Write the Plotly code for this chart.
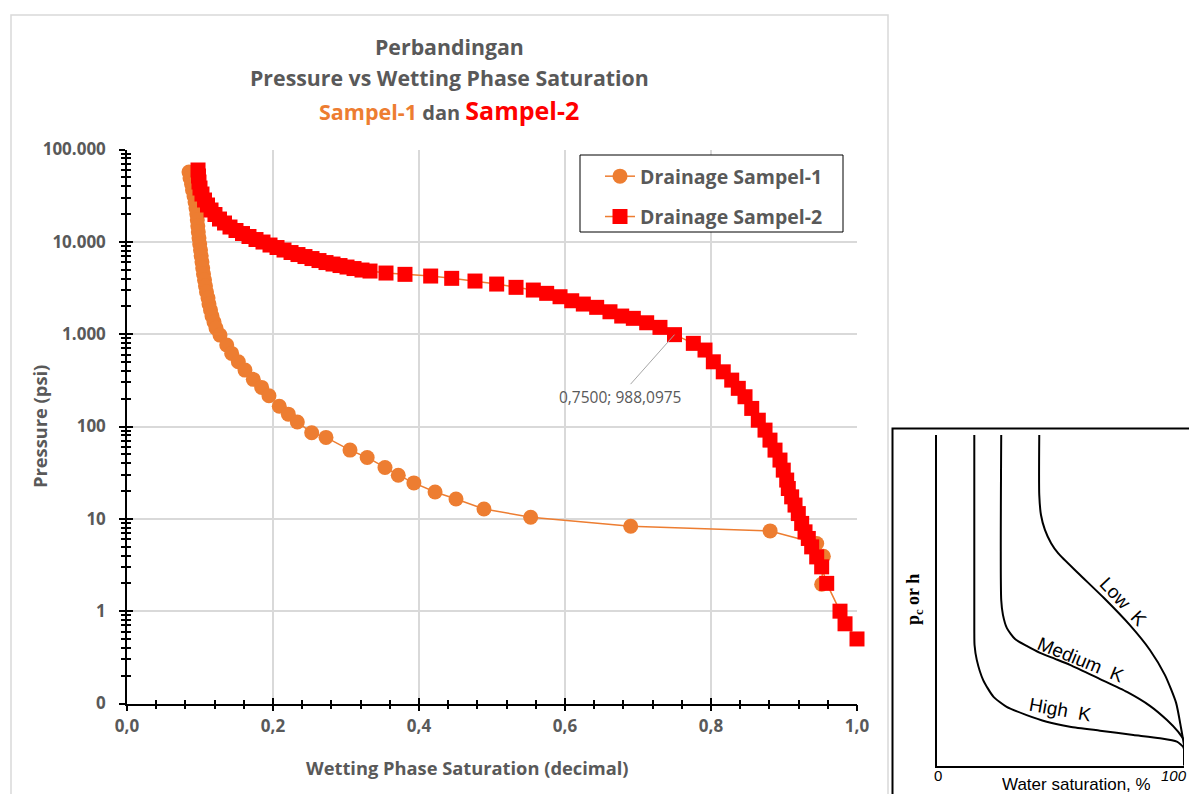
import math
import plotly.graph_objects as go

# ---------------- data ----------------
sw_sampel1 = [0.0849, 0.0863, 0.0884, 0.0897, 0.0918, 0.0932, 0.0945, 0.0956, 0.0963, 0.0970,
              0.0977, 0.0986, 0.0996, 0.1007, 0.1016, 0.1027, 0.1037, 0.1048, 0.1062, 0.1075,
              0.1089, 0.1110, 0.1123, 0.1144, 0.1164, 0.1192, 0.1219, 0.1274, 0.1366, 0.1434,
              0.1525, 0.1616, 0.1730, 0.1845, 0.1945, 0.2086, 0.2210, 0.2333, 0.2530, 0.2726,
              0.3055, 0.3290, 0.3534, 0.3716, 0.3930, 0.4220, 0.4507, 0.4890, 0.5530, 0.6900,
              0.8810, 0.9448, 0.9539, 0.9516]
p_sampel1 = [57050, 49120, 42290, 36410, 31350, 26990, 23240, 20010, 17230, 14830,
             12770, 10990, 9467, 8151, 7018, 6042, 5202, 4479, 3857, 3320,
             2859, 2461, 2119, 1824, 1571, 1352, 1164, 977, 762, 619,
             502, 408, 324, 265, 215, 166, 136, 112, 85.5, 76.2,
             55.5, 46.2, 36.0, 29.7, 24.5, 19.5, 16.4, 12.8, 10.4, 8.3,
             7.4, 5.41, 3.94, 1.96]

sw_sampel2 = [0.0973, 0.0979, 0.0986, 0.1000, 0.1027, 0.1062, 0.1103, 0.1151, 0.1205, 0.1267,
              0.1336, 0.1411, 0.1493, 0.1582, 0.1671, 0.1767, 0.1863, 0.1959, 0.2055, 0.2151,
              0.2247, 0.2342, 0.2438, 0.2534, 0.2630, 0.2726, 0.2822, 0.2918, 0.3014, 0.3110,
              0.3219, 0.3329, 0.3548, 0.3808, 0.4160, 0.4448, 0.4767, 0.5064, 0.5329, 0.5566,
              0.5749, 0.5932, 0.6092, 0.6251, 0.6434, 0.6616, 0.6777, 0.6936, 0.7119, 0.7301,
              0.7500, 0.7758, 0.7918, 0.8032, 0.8168, 0.8284, 0.8374, 0.8466, 0.8558, 0.8648,
              0.8740, 0.8808, 0.8877, 0.8945, 0.8990, 0.9037, 0.9059, 0.9105, 0.9151, 0.9196,
              0.9242, 0.9288, 0.9333, 0.9379, 0.9448, 0.9516, 0.9585, 0.9767, 0.9836, 1.0000]
p_sampel2 = [59970, 51640, 44450, 38270, 32950, 28380, 25050, 22110, 19760, 17660,
             15990, 14470, 13260, 12300, 11420, 10590, 9950, 9233, 8676, 8151,
             7658, 7285, 6930, 6593, 6271, 5966, 5747, 5536, 5333, 5137,
             4949, 4827, 4592, 4445, 4261, 4024, 3762, 3490, 3214, 3005,
             2767, 2543, 2301, 2119, 1952, 1748, 1571, 1484, 1329, 1185,
             988.0975, 795, 673, 502, 391, 318, 259, 210, 157, 117,
             91.4, 71.2, 55.5, 43.3, 33.7, 26.3, 21.3, 17.3, 14.1, 11.4,
             8.92, 7.23, 6.13, 4.97, 3.87, 3.02, 2.0, 1.0, 0.73, 0.5]

label_point = (0.75, 988.0975)
label_text = "0,7500; 988,0975"

# inset schematic (water saturation %, relative pc)
high_sw = [15.1, 15.1, 15.2, 16.1, 18.7, 22.8, 28.2, 36.3, 44.4, 53.8, 66.0, 79.5, 90.3, 97.1, 99.7, 100]
high_pc = [100, 41.0, 36.5, 32.0, 25.9, 20.9, 17.8, 15.3, 13.3, 11.8, 10.6, 9.3, 8.3, 7.3, 5.7, 5.0]
med_sw = [26.0, 26.0, 26.7, 28.3, 31.6, 36.3, 41.7, 47.8, 53.8, 66.0, 76.9, 86.2, 93.1, 97.6, 100]
med_pc = [100, 50.1, 45.6, 41.6, 38.3, 36.2, 34.1, 32.3, 30.5, 26.2, 22.3, 18.1, 13.8, 10.3, 7.8]
low_sw = [41.4, 41.4, 42.1, 43.7, 46.2, 49.1, 57.2, 67.6, 78.1, 86.2, 92.3, 96.8, 98.8, 100]
low_pc = [100, 81.9, 75.8, 71.3, 67.3, 64.2, 58.2, 50.7, 42.5, 35.0, 27.4, 19.0, 11.4, 6.3]
edge_sw = [100, 100]
edge_pc = [7.8, 0]

# ---------------- styling ----------------
ORANGE = "#ED7D31"
RED = "#FF0000"
GREY = "#595959"
GRID = "#D9D9D9"
FONT = "Open Sans"
W, H = 1189, 794


def fx(p):
    return p / W


def fy(p):
    return 1 - p / H


fig = go.Figure()

fig.add_trace(go.Scatter(
    x=sw_sampel1, y=p_sampel1, mode="lines+markers", name="Drainage Sampel-1",
    line=dict(color=ORANGE, width=1.5),
    marker=dict(symbol="circle", size=15, color=ORANGE),
    cliponaxis=False, legendgroup="s1"))
fig.add_trace(go.Scatter(
    x=sw_sampel2, y=p_sampel2, mode="lines+markers", name="Drainage Sampel-2",
    line=dict(color=ORANGE, width=1.5),
    marker=dict(symbol="square", size=15, color=RED),
    cliponaxis=False, legendgroup="s2"))
# empty trace so the overlay axes (inside half of the crossing ticks) exist
fig.add_trace(go.Scatter(x=[], y=[], xaxis="x3", yaxis="y3", showlegend=False, hoverinfo="skip"))

for xs, ys in [(high_sw, high_pc), (med_sw, med_pc), (low_sw, low_pc), (edge_sw, edge_pc)]:
    fig.add_trace(go.Scatter(x=xs, y=ys, xaxis="x2", yaxis="y2", mode="lines",
                             line=dict(color="black", width=2, shape="spline", smoothing=0.6),
                             showlegend=False, hoverinfo="skip"))

tickfont = dict(family=FONT, size=17, color=GREY, weight="bold")
common_tick = dict(tickcolor="black", tickwidth=1.5)

fig.update_layout(
    width=W, height=H,
    margin=dict(l=0, r=0, t=0, b=0, autoexpand=False),
    paper_bgcolor="white", plot_bgcolor="white",
    separators=",.",
    font=dict(family=FONT, color=GREY),
    xaxis=dict(domain=[fx(127), fx(857)], range=[0, 1], anchor="y",
               tickmode="linear", tick0=0, dtick=0.2, tickformat=".1f",
               showgrid=True, gridcolor=GRID, gridwidth=1.5, zeroline=False,
               showline=True, linecolor="black", linewidth=1.5,
               ticks="outside", ticklen=6, **common_tick,
               minor=dict(dtick=0.04, ticks="outside", ticklen=4, tickcolor="black", tickwidth=1.5, showgrid=False),
               tickfont=tickfont, automargin=False),
    yaxis=dict(domain=[fy(703.5), fy(149.5)], type="log", range=[-1, 5], anchor="x",
               tickmode="linear", tick0=0, dtick=1, tickformat=",.0f",
               showgrid=True, gridcolor=GRID, gridwidth=1.5, zeroline=False,
               showline=True, linecolor="black", linewidth=1.5,
               ticks="outside", ticklen=6, **common_tick,
               minor=dict(dtick="D1", ticks="outside", ticklen=4, tickcolor="black", tickwidth=1.5, showgrid=False),
               tickfont=tickfont, ticklabelstandoff=10, automargin=False),
    xaxis3=dict(overlaying="x", anchor="y", range=[0, 1], tickmode="linear", tick0=0, dtick=0.2,
                showgrid=False, zeroline=False, showline=False, showticklabels=False,
                ticks="inside", ticklen=6, **common_tick,
                minor=dict(dtick=0.04, ticks="inside", ticklen=4, tickcolor="black", tickwidth=1.5, showgrid=False)),
    yaxis3=dict(overlaying="y", anchor="x", type="log", range=[-1, 5], tickmode="linear", tick0=0, dtick=1,
                showgrid=False, zeroline=False, showline=False, showticklabels=False,
                ticks="inside", ticklen=6, **common_tick,
                minor=dict(dtick="D1", ticks="inside", ticklen=4, tickcolor="black", tickwidth=1.5, showgrid=False)),
    xaxis2=dict(domain=[fx(937), fx(1184)], range=[0, 100], anchor="y2",
                showline=True, linecolor="black", linewidth=2, showgrid=False, zeroline=False,
                showticklabels=False, ticks=""),
    yaxis2=dict(domain=[fy(765.7), fy(435)], range=[0, 100], anchor="x2",
                showline=True, linecolor="black", linewidth=2, showgrid=False, zeroline=False,
                showticklabels=False, ticks=""),
    legend=dict(x=fx(600), y=fy(157), xanchor="left", yanchor="top",
                bgcolor="rgba(0,0,0,0)", borderwidth=0,
                font=dict(family=FONT, size=19.5, color=GREY, weight="bold"),
                tracegroupgap=12),
    showlegend=True,
)

ann = []
title_font = dict(family=FONT, size=21.3, color=GREY, weight="bold")
ann.append(dict(text="Perbandingan", x=fx(449), y=fy(46), font=title_font))
ann.append(dict(text="Pressure vs Wetting Phase Saturation", x=fx(449), y=fy(77), font=title_font))
ann.append(dict(text=('<span style="color:%s;font-size:21.5px">Sampel-1</span> dan '
                      '<span style="color:%s;font-size:25px">Sampel-2</span>') % (ORANGE, RED),
                x=fx(449), y=fy(110), font=dict(family=FONT, size=20, color=GREY, weight="bold")))
axis_title_font = dict(family=FONT, size=18.3, color=GREY, weight="bold")
ann.append(dict(text="Pressure (psi)", x=fx(40), y=fy(427), textangle=-90, font=axis_title_font))
ann.append(dict(text="Wetting Phase Saturation (decimal)", x=fx(467), y=fy(767), font=axis_title_font))

# inset texts (paper positioned)
ann.append(dict(text="0", x=fx(938), y=fy(775), font=dict(family="Liberation Sans", size=15, color="black")))
ann.append(dict(text="<i>100</i>", x=1.0, y=fy(775), xanchor="right",
                font=dict(family="Liberation Sans", size=15, color="black")))
ann.append(dict(text="Water saturation, %", x=fx(1076), y=fy(783.5), height=18,
                font=dict(family="Liberation Sans", size=17, color="black")))
ann.append(dict(text="p<sub>c</sub> or h", x=fx(914), y=fy(600), textangle=-90,
                font=dict(family="Liberation Serif", size=18, color="black", weight="bold")))
for a in ann:
    a.setdefault("xanchor", "center")
    a.update(xref="paper", yref="paper", yanchor="middle", showarrow=False)

# data label with leader line
ann.append(dict(text=label_text, x=label_point[0], y=math.log10(label_point[1]), xref="x", yref="y",
                showarrow=True, arrowhead=0, arrowwidth=1, arrowcolor="#A6A6A6",
                ax=-55, ay=62, standoff=0,
                font=dict(family=FONT, size=15.5, color=GREY)))

# inset curve labels
inset_font = dict(family="Liberation Sans", size=19, color="black")
for txt, xx, yy, ang in [("Low  K", 75.3, 49.6, 47), ("Medium  K", 57.9, 32.0, 22), ("High  K", 49.8, 17.0, 10)]:
    ann.append(dict(text=txt, x=xx, y=yy, xref="x2", yref="y2", textangle=ang, showarrow=False,
                    xanchor="center", yanchor="middle", font=inset_font))

fig.update_layout(annotations=ann)

fig.update_layout(shapes=[
    # chart area border
    dict(type="rect", xref="paper", yref="paper", x0=fx(11), x1=fx(888), y0=-0.02, y1=fy(15),
         line=dict(color=GRID, width=1.5), fillcolor="rgba(0,0,0,0)", layer="below"),
    # inset picture frame
    dict(type="rect", xref="paper", yref="paper", x0=fx(892.5), x1=1.02, y0=-0.02, y1=fy(428.5),
         line=dict(color="black", width=2), fillcolor="rgba(0,0,0,0)", layer="below"),
    # legend box
    dict(type="rect", xref="paper", yref="paper", x0=fx(580), x1=fx(843), y0=fy(232), y1=fy(155),
         line=dict(color="black", width=1), fillcolor="white", layer="above"),
])

fig.write_html("out.html")
